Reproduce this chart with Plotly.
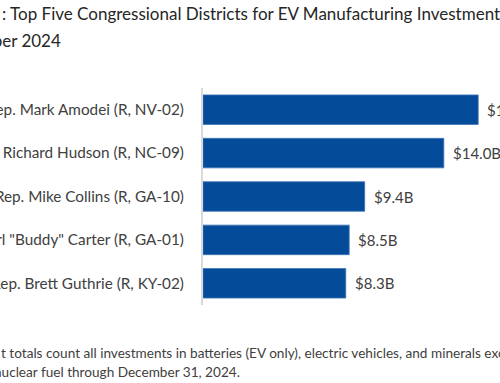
import plotly.graph_objects as go

members = [
    "Rep. Mark Amodei (R, NV-02)",
    "Rep. Richard Hudson (R, NC-09)",
    "Rep. Mike Collins (R, GA-10)",
    "Rep. Earl \"Buddy\" Carter (R, GA-01)",
    "Rep. Brett Guthrie (R, KY-02)",
]
investment_billions = [16.0, 14.0, 9.4, 8.5, 8.3]
value_labels = ["$16.0B", "$14.0B", "$9.4B", "$8.5B", "$8.3B"]

title_line1 = ": Top Five Congressional Districts for EV Manufacturing Investment Through"
title_line2 = "December 2024"
note_line1 = "t totals count all investments in batteries (EV only), electric vehicles, and minerals excluding"
note_line2 = "nuclear fuel through December 31, 2024."

FONT = "Lato"
TEXT = "#404040"
W, H = 500, 383
ML, MT, MB, MR = 203, 88, 78, 10

fig = go.Figure()
fig.add_trace(go.Bar(
    x=investment_billions,
    y=members,
    orientation="h",
    marker=dict(color="#044c9a", line=dict(color="#3f74b5", width=0.8)),
    hoverinfo="skip",
))

annotations = []
for v, lab, m in zip(investment_billions, value_labels, members):
    annotations.append(dict(
        x=v, y=m, xref="x", yref="y", text=lab, showarrow=False,
        xanchor="left", yanchor="middle", xshift=7,
        font=dict(family=FONT, size=15, color=TEXT),
    ))

def px_ann(text, px, py, anchor, size, color):
    return dict(
        x=0, y=1, xref="paper", yref="paper", text=text, showarrow=False,
        xanchor=anchor, yanchor="middle",
        xshift=px - ML, yshift=MT - py,
        font=dict(family=FONT, size=size, color=color),
    )

annotations.append(px_ann(title_line1, 0, 13, "left", 17, "#262626"))
annotations.append(px_ann(title_line2, 63, 40, "right", 17, "#262626"))
annotations.append(px_ann(note_line1, -1, 353, "left", 13.6, TEXT))
annotations.append(px_ann(note_line2, 242, 372, "right", 13.6, TEXT))

plot_w = W - ML - MR
fig.update_layout(
    width=W, height=H,
    margin=dict(l=ML, r=MR, t=MT, b=MB, pad=0),
    paper_bgcolor="white", plot_bgcolor="white",
    showlegend=False,
    bargap=0.32,
    annotations=annotations,
    xaxis=dict(range=[0, plot_w / 17.2], visible=False, fixedrange=True),
    yaxis=dict(
        autorange="reversed", showline=True, linecolor="#d9d9d9", linewidth=2,
        showgrid=False, ticks="", ticklabelstandoff=14,
        tickfont=dict(family=FONT, size=15.3, color=TEXT),
        automargin=False, fixedrange=True,
    ),
)

fig.write_html(
    "out.html",
    config={"displayModeBar": False},
    post_script="document.body.style.margin='0';document.body.style.overflow='hidden';",
)
